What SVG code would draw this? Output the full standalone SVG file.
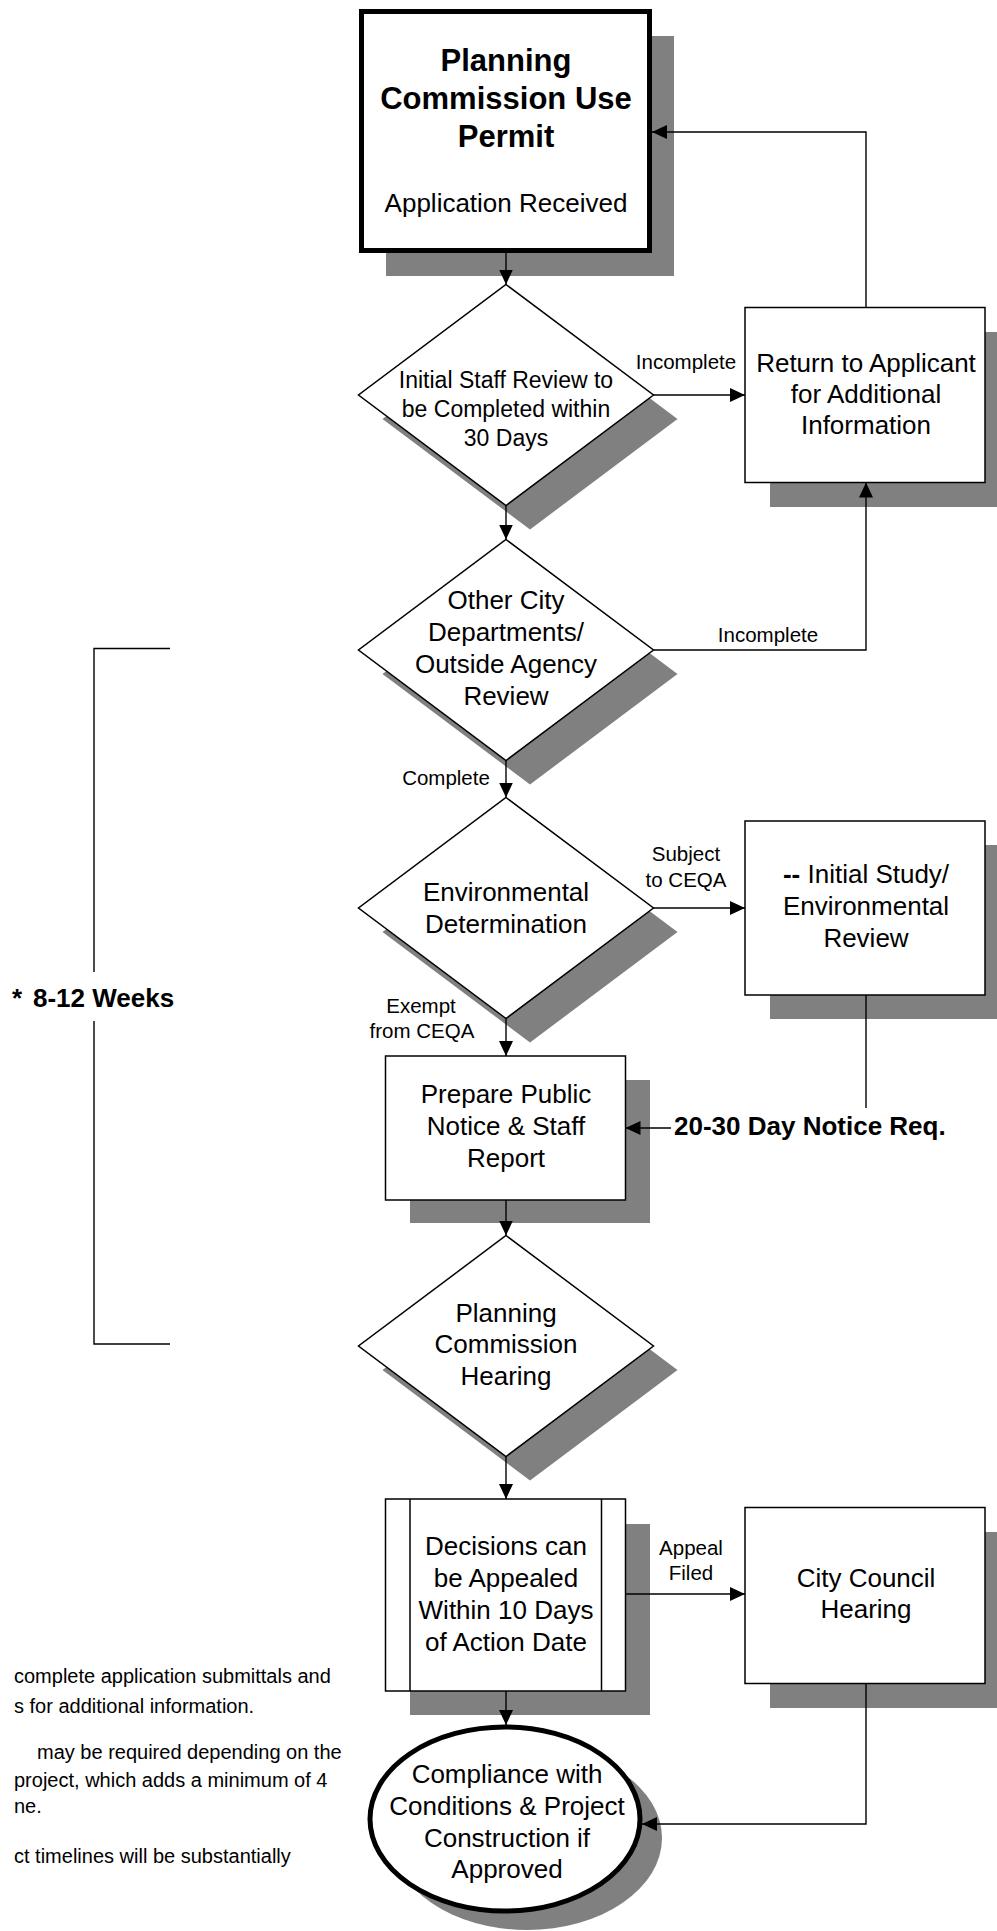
<svg xmlns="http://www.w3.org/2000/svg" width="997" height="1931" viewBox="0 0 997 1931">
<defs>
<marker id="ah" markerUnits="userSpaceOnUse" markerWidth="16" markerHeight="14" refX="15" refY="7" orient="auto">
<path d="M0,0 L15,7 L0,14 z" fill="#000"/>
</marker>
<style>
text{font-family:"Liberation Sans",Arial,sans-serif;fill:#000}
.t{font-size:26px;text-anchor:middle}
.td{font-size:23px;text-anchor:middle}
.lb{font-size:20.5px;text-anchor:middle}
.fn{font-size:20px}
.sh{fill:#808080;stroke:none}
.bx{fill:#fff;stroke:#000;stroke-width:1.5}
.cn{fill:none;stroke:#000;stroke-width:1.4}
.ar{marker-end:url(#ah)}
</style>
</defs>
<rect width="997" height="1931" fill="#fff"/>

<g id="n-start">
<rect class="sh" x="386" y="36" width="288" height="240"/>
<rect x="361.5" y="11.5" width="288" height="239" fill="#fff" stroke="#000" stroke-width="5"/>
<text x="506" y="71" style="font-size:31px;font-weight:bold;text-anchor:middle">Planning</text>
<text x="506" y="109" style="font-size:31px;font-weight:bold;text-anchor:middle">Commission Use</text>
<text x="506" y="147" style="font-size:31px;font-weight:bold;text-anchor:middle">Permit</text>
<text class="t" x="506" y="212">Application Received</text>
</g>

<g id="n-initial-review">
<polygon class="sh" points="530,308.5 677.5,419 530,529.5 382.5,419"/>
<polygon class="bx" points="506,284.5 653.5,395 506,505.5 358.5,395"/>
<text class="td" x="506" y="388">Initial Staff Review to</text>
<text class="td" x="506" y="417">be Completed within</text>
<text class="td" x="506" y="446">30 Days</text>
</g>

<g id="n-return">
<rect class="sh" x="770" y="332" width="240" height="175"/>
<rect class="bx" x="745" y="307.5" width="240" height="175"/>
<text class="t" x="866" y="372">Return to Applicant</text>
<text class="t" x="866" y="403">for Additional</text>
<text class="t" x="866" y="434">Information</text>
</g>

<g id="n-other-review">
<polygon class="sh" points="530,563.5 677.5,674 530,784.5 382.5,674"/>
<polygon class="bx" points="506,539.5 653.5,650 506,760.5 358.5,650"/>
<text class="t" x="506" y="609">Other City</text>
<text class="t" x="506" y="641">Departments/</text>
<text class="t" x="506" y="673">Outside Agency</text>
<text class="t" x="506" y="705">Review</text>
</g>

<g id="n-env-determination">
<polygon class="sh" points="530,821.5 677.5,932 530,1042.5 382.5,932"/>
<polygon class="bx" points="506,797.5 653.5,908 506,1018.5 358.5,908"/>
<text class="t" x="506" y="901">Environmental</text>
<text class="t" x="506" y="933">Determination</text>
</g>

<g id="n-initial-study">
<rect class="sh" x="770" y="845" width="240" height="174"/>
<rect class="bx" x="745" y="821" width="240" height="174"/>
<text class="t" x="866" y="883"><tspan font-weight="bold">--</tspan> Initial Study/</text>
<text class="t" x="866" y="915">Environmental</text>
<text class="t" x="866" y="947">Review</text>
</g>

<g id="n-prepare">
<rect class="sh" x="410" y="1080" width="240" height="143"/>
<rect class="bx" x="385.5" y="1056" width="240" height="144"/>
<text class="t" x="506" y="1103">Prepare Public</text>
<text class="t" x="506" y="1135">Notice &amp; Staff</text>
<text class="t" x="506" y="1167">Report</text>
</g>

<g id="n-notice">
<text x="674" y="1135" style="font-size:26px;font-weight:bold">20-30 Day Notice Req.</text>
</g>

<g id="n-pc-hearing">
<polygon class="sh" points="530,1259.5 677.5,1370 530,1480.5 382.5,1370"/>
<polygon class="bx" points="506,1235.5 653.5,1346 506,1456.5 358.5,1346"/>
<text class="t" x="506" y="1322">Planning</text>
<text class="t" x="506" y="1353">Commission</text>
<text class="t" x="506" y="1385">Hearing</text>
</g>

<g id="n-decisions">
<rect class="sh" x="410" y="1524" width="240" height="191"/>
<rect class="bx" x="385.5" y="1499" width="240" height="192"/>
<line x1="410" y1="1499" x2="410" y2="1691" stroke="#000" stroke-width="1.5"/>
<line x1="601.5" y1="1499" x2="601.5" y2="1691" stroke="#000" stroke-width="1.5"/>
<text class="t" x="506" y="1555">Decisions can</text>
<text class="t" x="506" y="1587">be Appealed</text>
<text class="t" x="506" y="1619">Within 10 Days</text>
<text class="t" x="506" y="1651">of Action Date</text>
</g>

<g id="n-council">
<rect class="sh" x="770" y="1532" width="240" height="176"/>
<rect class="bx" x="745" y="1507.5" width="240" height="176"/>
<text class="t" x="866" y="1587">City Council</text>
<text class="t" x="866" y="1618">Hearing</text>
</g>

<g id="n-compliance">
<ellipse class="sh" cx="527" cy="1838" rx="135" ry="92"/>
<ellipse cx="505" cy="1819" rx="135" ry="92" fill="#fff" stroke="#000" stroke-width="5"/>
<text class="t" x="507" y="1783">Compliance with</text>
<text class="t" x="507" y="1815">Conditions &amp; Project</text>
<text class="t" x="507" y="1847">Construction if</text>
<text class="t" x="507" y="1878">Approved</text>
</g>

<g id="n-timeline">
<path class="cn" d="M170,648.5 H94 V972 M94,1021 V1344 H170"/>
<text x="12" y="1007" style="font-size:26px;font-weight:bold"><tspan x="12">*</tspan> <tspan x="33">8-12 Weeks</tspan></text>
</g>

<g id="n-footnotes">
<text class="fn" x="14" y="1683">complete application submittals and</text>
<text class="fn" x="14" y="1713">s for additional information.</text>
<text class="fn" x="37" y="1759">may be required depending on the</text>
<text class="fn" x="14" y="1787">project, which adds a minimum of 4</text>
<text class="fn" x="14" y="1813">ne.</text>
<text class="fn" x="14" y="1863">ct timelines will be substantially</text>
</g>

<g id="connectors">
<path class="cn ar" d="M506,253 V284.5"/>
<path class="cn ar" d="M653.5,395 H745"/>
<path class="cn ar" d="M866,307.5 V132 H652"/>
<path class="cn ar" d="M506,505.5 V539.5"/>
<path class="cn ar" d="M653.5,650 H866 V482.5"/>
<path class="cn ar" d="M506,760.5 V797.5"/>
<path class="cn ar" d="M653.5,908 H745"/>
<path class="cn ar" d="M506,1018.5 V1056"/>
<path class="cn" d="M866,995 V1108"/>
<path class="cn ar" d="M671,1128 H625.5"/>
<path class="cn ar" d="M506,1200 V1235.5"/>
<path class="cn ar" d="M506,1456.5 V1499"/>
<path class="cn ar" d="M625.5,1594 H745"/>
<path class="cn ar" d="M506,1691 V1725"/>
<path class="cn ar" d="M866,1683.5 V1824 H642"/>
<text class="lb" x="686" y="369">Incomplete</text>
<text class="lb" x="768" y="642">Incomplete</text>
<text class="lb" x="446" y="785">Complete</text>
<text class="lb" x="686" y="861">Subject</text>
<text class="lb" x="686" y="887">to CEQA</text>
<text class="lb" x="421" y="1013">Exempt</text>
<text class="lb" x="422" y="1038">from CEQA</text>
<text class="lb" x="691" y="1555">Appeal</text>
<text class="lb" x="691" y="1580">Filed</text>
</g>
</svg>
